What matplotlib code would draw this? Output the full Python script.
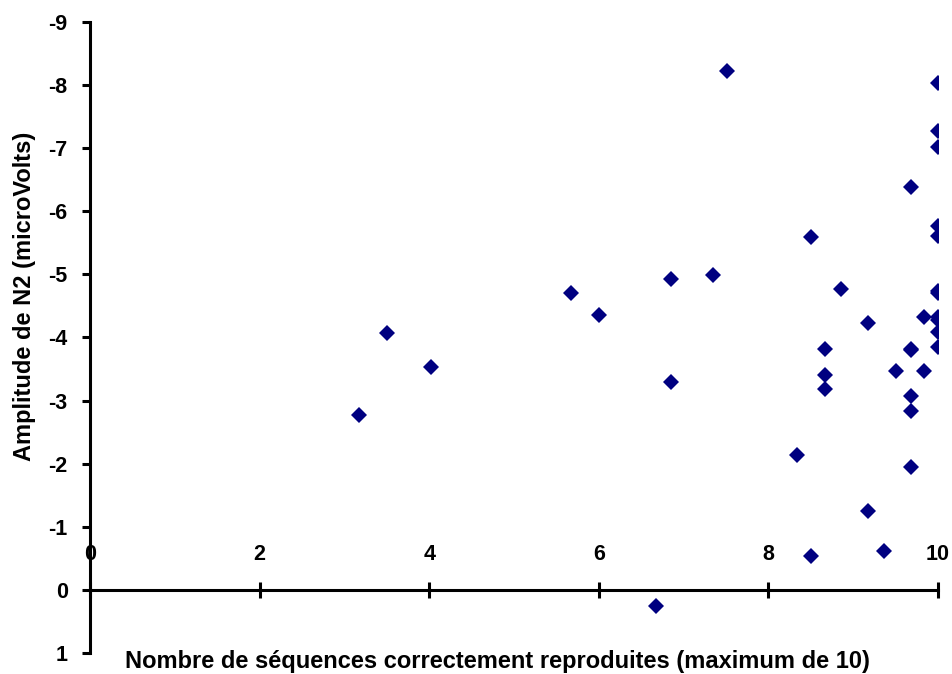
import matplotlib
matplotlib.use("Agg")
import matplotlib.pyplot as plt

plt.rcParams['font.family'] = ['Liberation Sans', 'DejaVu Sans']
plt.rcParams['axes.unicode_minus'] = False

# nombre de séquences reproduites (x) et amplitude N2 (y, microVolts)
sequences = [3.17, 3.50, 4.02, 5.67, 6.00, 6.68, 6.85, 6.85, 7.35, 7.51,
             8.34, 8.50, 8.50, 8.67, 8.67, 8.67, 8.85, 9.18, 9.18, 9.36,
             9.51, 9.68, 9.68, 9.68, 9.68, 9.68, 9.68, 9.84, 9.84,
             10.0, 10.0, 10.0, 10.0, 10.0, 10.0, 10.0, 10.0, 10.0, 10.0, 10.0]
amplitude = [-2.77, -4.07, -3.53, -4.70, -4.36, 0.25, -3.30, -4.92, -4.99, -8.22,
             -2.14, -0.54, -5.59, -3.81, -3.41, -3.18, -4.77, -4.23, -1.25, -0.62,
             -3.47, -6.38, -3.81, -3.08, -2.84, -1.94, -3.80, -4.32, -3.47,
             -8.03, -7.27, -7.02, -5.76, -5.61, -4.74, -4.70, -4.33, -4.27, -4.09, -3.85]

x_ticks = [0, 2, 4, 6, 8, 10]
y_ticks = [-9, -8, -7, -6, -5, -4, -3, -2, -1, 0, 1]

fig = plt.figure(figsize=(9.53, 6.74), dpi=100)
ax = fig.add_axes([0.0944, 0.0312, 0.8899, 0.9362])

ax.plot(sequences, amplitude, linestyle='none', marker='D', markersize=8,
        color='#000080', markeredgewidth=0)

ax.set_xlim(0, 10)
ax.set_ylim(1, -9)

# axe des x placé à y = 0, étiquettes au-dessus
ax.spines['top'].set_position(('data', 0))
ax.spines['bottom'].set_visible(False)
ax.spines['right'].set_visible(False)
ax.spines['top'].set_linewidth(2.2)
ax.spines['left'].set_linewidth(2.2)
ax.spines['left'].set_position(('data', 0))
ax.xaxis.set_ticks_position('top')
ax.set_xticks(x_ticks)
ax.set_yticks(y_ticks)
ax.tick_params(axis='x', direction='inout', length=12, width=2.2, pad=12,
               labelsize=15.5)
ax.tick_params(axis='y', direction='out', length=6, width=2.2, pad=10,
               labelsize=15.5)
for lab in ax.get_xticklabels() + ax.get_yticklabels():
    lab.set_fontweight('bold')

fig.text(0.5215, 0.018, "Nombre de séquences correctement reproduites (maximum de 10)",
         ha='center', va='center', fontsize=17, fontweight='bold')
fig.text(0.026, 0.561, "Amplitude de N2 (microVolts)", rotation=90,
         ha='center', va='center', fontsize=17, fontweight='bold')

fig.savefig("out.png", dpi=100)
